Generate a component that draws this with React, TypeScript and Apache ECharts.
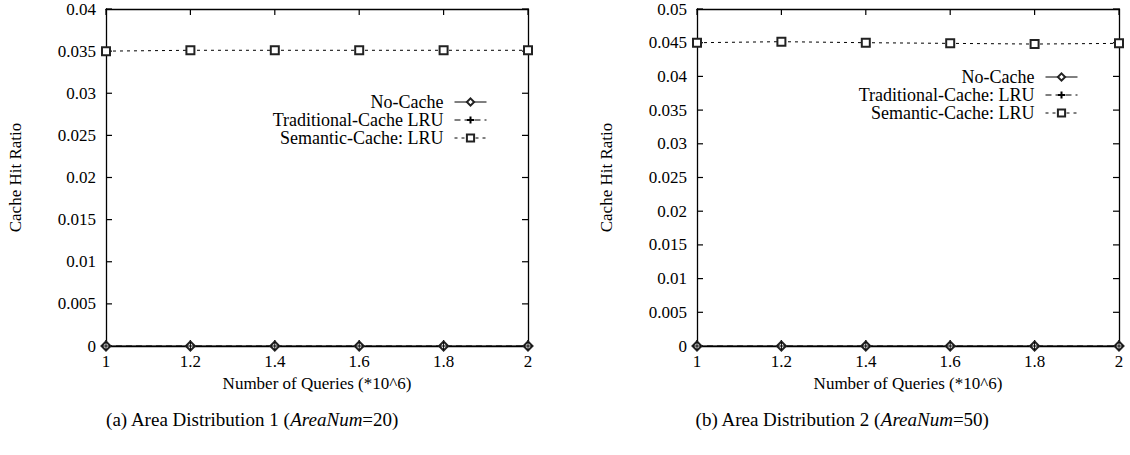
import React, { useEffect, useRef } from "react";
import * as echarts from "echarts";

const queries = [1, 1.2, 1.4, 1.6, 1.8, 2];
const noCacheA = [0, 0, 0, 0, 0, 0];
const tradA = [0, 0, 0, 0, 0, 0];
const semA = [0.035, 0.0351, 0.0351, 0.0351, 0.0351, 0.0351];
const noCacheB = [0, 0, 0, 0, 0, 0];
const tradB = [0, 0, 0, 0, 0, 0];
const semB = [0.045, 0.04515, 0.045, 0.0449, 0.0448, 0.0449];

// tick positions
const xTicks = [1, 1.2, 1.4, 1.6, 1.8, 2];
const yTicksA = [0, 0.005, 0.01, 0.015, 0.02, 0.025, 0.03, 0.035, 0.04];
const yTicksB = [0, 0.005, 0.01, 0.015, 0.02, 0.025, 0.03, 0.035, 0.04, 0.045, 0.05];

const FONT = "Liberation Serif";
const FS = 17;
const PLUS = "path://M5,0L5,10M0,5L10,5";
const TL = 6;

function pairs(ys: number[]) {
  return queries.map((x, i) => [x, ys[i]]);
}

export default function App() {
  const ref = useRef<HTMLDivElement>(null);
  useEffect(() => {
    const chart = echarts.init(ref.current!, null, { renderer: "svg" });
    const labelStyle = () => ({ fontFamily: FONT, fontSize: FS, color: "#000" });
    const line = () => ({ show: true, onZero: false, lineStyle: { color: "#000", width: 1.3 } });
    const mkX = (gi: number) => [
      {
        type: "value", gridIndex: gi, position: "bottom", min: 1, max: 2, interval: 0.2,
        axisLine: line(), axisTick: { show: false },
        axisLabel: { ...labelStyle(), margin: 7 },
        splitLine: { show: false },
        name: "Number of Queries (*10^6)", nameLocation: "middle", nameGap: 26,
        nameTextStyle: labelStyle(),
      },
      {
        type: "value", gridIndex: gi, position: "top", min: 1, max: 2, interval: 0.2,
        axisLine: line(), axisTick: { show: false },
        axisLabel: { show: false }, splitLine: { show: false },
      },
    ];
    const mkY = (gi: number, max: number) => [
      {
        type: "value", gridIndex: gi, position: "left", min: 0, max, interval: 0.005,
        axisLine: line(), axisTick: { show: false },
        axisLabel: { ...labelStyle(), margin: 10 },
        splitLine: { show: false },
        name: "Cache Hit Ratio", nameLocation: "middle", nameGap: 82,
        nameTextStyle: labelStyle(),
      },
      {
        type: "value", gridIndex: gi, position: "right", min: 0, max, interval: 0.005,
        axisLine: line(), axisTick: { show: false },
        axisLabel: { show: false }, splitLine: { show: false },
      },
    ];
    // dir: 0 = up from bottom, 1 = down from top, 2 = right from left, 3 = left from right
    const tickSeries = (gi: number, yTicks: number[], ymax: number) => {
      const data: number[][] = [];
      xTicks.forEach((x) => { data.push([x, 0, 0]); data.push([x, ymax, 1]); });
      yTicks.forEach((y) => { data.push([1, y, 2]); data.push([2, y, 3]); });
      return {
        type: "custom", xAxisIndex: gi * 2, yAxisIndex: gi * 2, silent: true, clip: false, z: 1,
        data,
        renderItem: (params: any, api: any) => {
          const p = api.coord([api.value(0), api.value(1)]);
          const d = api.value(2);
          const dx = d === 2 ? TL : d === 3 ? -TL : 0;
          const dy = d === 0 ? -TL : d === 1 ? TL : 0;
          return {
            type: "line",
            shape: { x1: p[0], y1: p[1], x2: p[0] + dx, y2: p[1] + dy },
            style: { stroke: "#000", lineWidth: 1.2 },
          };
        },
      };
    };
    const mkSeries = (gi: number, trad: string, nc: number[], tr: number[], se: number[]) => [
      {
        type: "line", name: "No-Cache", xAxisIndex: gi * 2, yAxisIndex: gi * 2,
        data: pairs(nc), symbol: "emptyDiamond", symbolSize: 9, z: 3,
        lineStyle: { color: "#000", width: 1, type: "solid" },
        itemStyle: { color: "#222", borderColor: "#222", borderWidth: 1 },
      },
      {
        type: "line", name: trad, xAxisIndex: gi * 2, yAxisIndex: gi * 2,
        data: pairs(tr), symbol: PLUS, symbolSize: 8, z: 3,
        lineStyle: { color: "#000", width: 1, type: [6, 4] },
        itemStyle: { color: "none", borderColor: "#000", borderWidth: 1 },
      },
      {
        type: "line", name: "Semantic-Cache: LRU", xAxisIndex: gi * 2, yAxisIndex: gi * 2,
        data: pairs(se), symbol: "emptyRect", symbolSize: 8, z: 3,
        lineStyle: { color: "#000", width: 1, type: [3, 4] },
        itemStyle: { color: "#222", borderColor: "#222", borderWidth: 1 },
      },
    ];
    const legendBase = {
      orient: "vertical", align: "right", itemWidth: 32, itemHeight: 9, itemGap: 0,
      selectedMode: false,
      lineStyle: { width: 1 },
      textStyle: { fontFamily: FONT, fontSize: 18, color: "#000", padding: [0, 6, 0, 0] },
    };
    chart.setOption({
      animation: false,
      grid: [
        { left: 106, right: 602, top: 9, bottom: 109 },
        { left: 697, right: 11, top: 9, bottom: 109 },
      ],
      xAxis: [...mkX(0), ...mkX(1)],
      yAxis: [...mkY(0, 0.04), ...mkY(1, 0.05)],
      legend: [
        { ...legendBase, right: 638, top: 88, data: ["No-Cache", "Traditional-Cache LRU", "Semantic-Cache: LRU"] },
        { ...legendBase, right: 47, top: 63, data: ["No-Cache", "Traditional-Cache: LRU", "Semantic-Cache: LRU"] },
      ],
      series: [
        tickSeries(0, yTicksA, 0.04),
        tickSeries(1, yTicksB, 0.05),
        ...mkSeries(0, "Traditional-Cache LRU", noCacheA, tradA, semA),
        ...mkSeries(1, "Traditional-Cache: LRU", noCacheB, tradB, semB),
      ],
      graphic: [
        {
          type: "text", x: 252, y: 419,
          style: {
            text: "(a) Area Distribution 1 ({i|AreaNum}=20)", align: "center", verticalAlign: "middle",
            fontFamily: FONT, fontSize: 19, fill: "#000",
            rich: { i: { fontFamily: FONT, fontSize: 19, fontStyle: "italic", fill: "#000" } },
          },
        },
        {
          type: "text", x: 842, y: 419,
          style: {
            text: "(b) Area Distribution 2 ({i|AreaNum}=50)", align: "center", verticalAlign: "middle",
            fontFamily: FONT, fontSize: 19, fill: "#000",
            rich: { i: { fontFamily: FONT, fontSize: 19, fontStyle: "italic", fill: "#000" } },
          },
        },
      ],
    });
    return () => chart.dispose();
  }, []);
  return (
    <div
      ref={ref}
      style={{ position: "fixed", left: 0, top: 0, width: 1130, height: 455, background: "#fff" }}
    />
  );
}
